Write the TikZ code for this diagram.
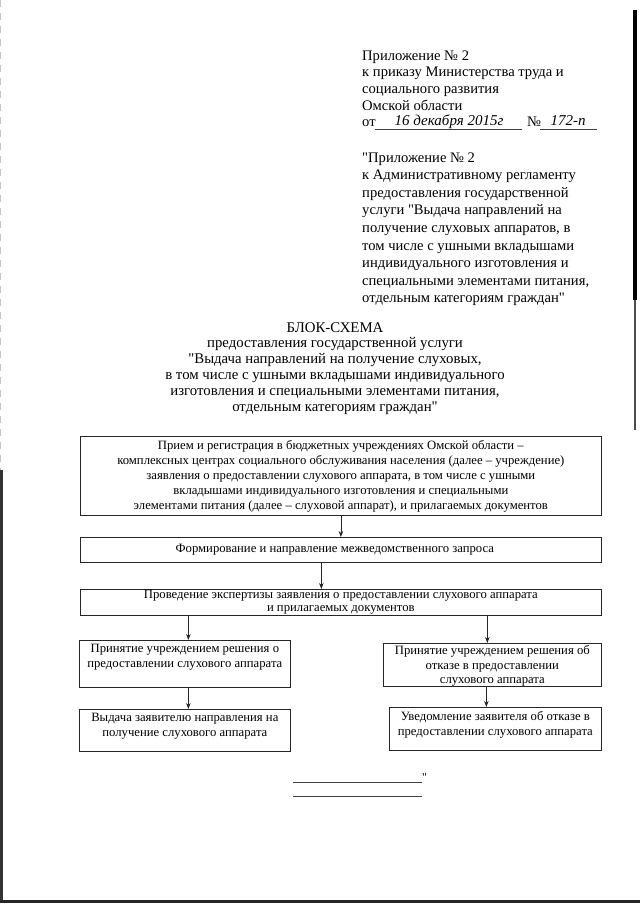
\documentclass[tikz,border=0pt]{standalone}
\usepackage{fontspec}
\setmainfont{Liberation Serif}[Ligatures=TeXOff]
\usetikzlibrary{arrows.meta}
\begin{document}
\begin{tikzpicture}[x=1pt,y=-1pt,
  hdr/.style={font=\fontsize{14.6}{17}\selectfont, anchor=base west, inner sep=0pt},
  ttl/.style={font=\fontsize{14.8}{17}\selectfont, anchor=base, inner sep=0pt},
  hand/.style={font=\fontsize{15}{15}\selectfont\itshape, anchor=base, inner sep=0pt},
  box/.style={draw=black!85, line width=0.7pt, inner sep=0pt, anchor=north west},
  btxt/.style={font=\fontsize{12.7}{15}\selectfont, align=center, inner sep=0pt},
  arr/.style={-{Stealth[length=6pt,width=4.5pt]}, line width=0.7pt, draw=black!85},
  rule/.style={line width=0.6pt, draw=black!75}]
\useasboundingbox (0,0) rectangle (640,905);
\fill[white] (0,0) rectangle (640,905);
% scan edges
\fill[black] (633,10) rectangle (637,300);
\fill[black!70] (634,300) rectangle (636,430);
\draw[black!22, line width=0.8pt, dash pattern=on 7pt off 6pt] (0.8,0) -- (0.8,470);
\fill[black!80] (0,470) rectangle (3,902);
\fill[black!85] (0,899.5) rectangle (640,902.5);
% header block 1
\node[hdr] (h1) at (362,60) {Приложение №~2};
\node[hdr] (h2) at (362,76.7) {к приказу Министерства труда и};
\node[hdr] (h3) at (362,93.4) {социального развития};
\node[hdr] (h4) at (362,110.1) {Омской области};
\node[hdr] (h5) at (362,126.8) {от};
\node[hand] (hd) at (449,125) {16 декабря 2015г};
\node[hdr] (hn) at (527,126.8) {№};
\node[hand] (hnum) at (568,125) {172-п};
\draw[rule] (375,129) -- (522,129);
\draw[rule] (540,129) -- (597,129);
% header block 2
\foreach \t [count=\i from 0] in {{"Приложение №~2},
  {к Административному регламенту},
  {предоставления государственной},
  {услуги "Выдача направлений на},
  {получение слуховых аппаратов, в},
  {том числе с ушными вкладышами},
  {индивидуального изготовления и},
  {специальными элементами питания,},
  {отдельным категориям граждан"}}
  \node[hdr] (p\i) at (362,162+17.6*\i) {\t};
% title
\foreach \t [count=\i from 0] in {{БЛОК-СХЕМА},
  {предоставления государственной услуги},
  {"Выдача направлений на получение слуховых,},
  {в том числе с ушными вкладышами индивидуального},
  {изготовления и специальными элементами питания,},
  {отдельным категориям граждан"}}
  \node[ttl] (t\i) at (335,332+15.8*\i) {\t};
% boxes
\node[box, minimum width=521pt, minimum height=79pt] (b1) at (80,436) {};
\node[btxt] (b1t) at (b1.center) {Прием и регистрация в бюджетных учреждениях Омской области –\\
комплексных центрах социального обслуживания населения (далее – учреждение)\\
заявления о предоставлении слухового аппарата, в том числе с ушными\\
вкладышами индивидуального изготовления и специальными\\
элементами питания (далее – слуховой аппарат), и прилагаемых документов};
\node[box, minimum width=521pt, minimum height=25pt] (b2) at (80,537) {};
\node[btxt] (b2t) at ([xshift=-6pt]b2.center) {Формирование и направление межведомственного запроса};
\node[box, minimum width=521pt, minimum height=26pt] (b3) at (80,589) {};
\node[btxt, font=\fontsize{12.7}{13.5}\selectfont] (b3t) at (b3.center) {Проведение экспертизы заявления о предоставлении слухового аппарата\\
и прилагаемых документов};
\node[box, minimum width=211pt, minimum height=47pt] (l1) at (79,640) {};
\node[btxt, anchor=north] (l1t) at ([yshift=-4pt]l1.north) {Принятие учреждением решения о\\
предоставлении слухового аппарата};
\node[box, minimum width=211pt, minimum height=42pt] (l2) at (79,709) {};
\node[btxt, anchor=north] (l2t) at ([yshift=-4pt]l2.north) {Выдача заявителю направления на\\
получение слухового аппарата};
\node[box, minimum width=218pt, minimum height=43pt] (r1) at (383,643) {};
\node[btxt, anchor=north, font=\fontsize{12.7}{14.3}\selectfont] (r1t) at ([yshift=-2.5pt]r1.north) {Принятие учреждением решения об\\
отказе в предоставлении\\
слухового аппарата};
\node[box, minimum width=212pt, minimum height=43pt] (r2) at (389,707) {};
\node[btxt, anchor=north] (r2t) at ([yshift=-4.5pt]r2.north) {Уведомление заявителя об отказе в\\
предоставлении слухового аппарата};
% arrows
\draw[arr] (b1.south) -- (b1.south |- b2.north);
\draw[arr] ([xshift=-19.5pt]b2.south) -- ([xshift=-19.5pt]b2.south |- b3.north);
\draw[arr] ([xshift=3.5pt]l1.north |- b3.south) -- ([xshift=3.5pt]l1.north);
\draw[arr] ([xshift=-5pt]r1.north |- b3.south) -- ([xshift=-5pt]r1.north);
\draw[arr] ([xshift=3.5pt]l1.south) -- ([xshift=3.5pt]l1.south |- l2.north);
\draw[arr] ([xshift=-6pt]r1.south) -- ([xshift=-6pt]r1.south |- r2.north);
% closing
\node[hdr, font=\fontsize{12}{14}\selectfont] (q) at (422,781) {"};
\coordinate (s1a) at (293,782);
\coordinate (s1b) at (422,782);
\coordinate (s2a) at (293,796);
\coordinate (s2b) at (422,796);
\draw[rule] (s1a) -- (s1b);
\draw[rule] (s2a) -- (s2b);
\end{tikzpicture}
\end{document}
